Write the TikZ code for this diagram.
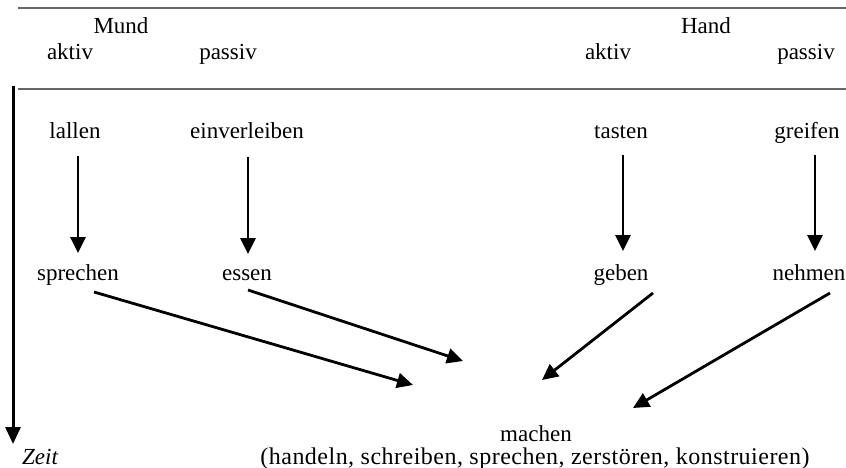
\documentclass[tikz,border=0pt]{standalone}
\usepackage{fontspec}
\setmainfont{Liberation Serif}
\usetikzlibrary{arrows.meta}
\begin{document}
\begin{tikzpicture}[x=1pt,y=-1pt,
  lbl/.style={anchor=base,inner sep=0pt,font=\fontsize{23}{26}\selectfont},
  rule/.style={draw=black!60,line width=1.1pt},
  arr/.style={line width=2.8pt,-{Triangle[length=16pt,width=15pt]}},
  timearr/.style={line width=3pt,-{Triangle[length=17pt,width=15pt]}}]
\useasboundingbox (0,0) rectangle (846,468);
% header
\coordinate (r1a) at (18,8);  \coordinate (r1b) at (846,8);
\coordinate (r2a) at (18,89); \coordinate (r2b) at (846,89);
\draw[rule] (r1a) -- (r1b);
\draw[rule] (r2a) -- (r2b);
\node[lbl] (mund) at (121,34) {Mund};
\node[lbl] (hand) at (706,34) {Hand};
\node[lbl] (aktivM) at (70,60) {aktiv};
\node[lbl] (passivM) at (228,60) {passiv};
\node[lbl] (aktivH) at (608,60) {aktiv};
\node[lbl] (passivH) at (806,60) {passiv};
% time axis
\coordinate (t0) at (13,86);
\coordinate (t1) at (13,444);
\draw[timearr] (t0) -- (t1);
\node[lbl,anchor=base west] (zeit) at (22,464) {\itshape Zeit};
% row 1
\node[lbl] (lallen) at (75,139) {lallen};
\node[lbl] (einv) at (247,139) {einverleiben};
\node[lbl] (tasten) at (621,139) {tasten};
\node[lbl] (greifen) at (807,139) {greifen};
% row 2
\node[lbl] (sprechen) at (78,280) {sprechen};
\node[lbl] (essen) at (247,280) {essen};
\node[lbl] (geben) at (621,280) {geben};
\node[lbl] (nehmen) at (809,280) {nehmen};
% result
\node[lbl] (machen) at (536,441) {machen};
\node[lbl,font=\fontsize{24}{26}\selectfont\addfontfeature{LetterSpace=2}] (liste) at (535,464) {(handeln, schreiben, sprechen, zerstören, konstruieren)};
% vertical arrows
\coordinate (a1s) at (78,156);  \coordinate (a1e) at (78,253);
\coordinate (a2s) at (248,157); \coordinate (a2e) at (248,254);
\coordinate (a3s) at (623,155); \coordinate (a3e) at (623,251);
\coordinate (a4s) at (815,155); \coordinate (a4e) at (815,251);
\draw[arr] (a1s) -- (a1e);
\draw[arr] (a2s) -- (a2e);
\draw[arr] (a3s) -- (a3e);
\draw[arr] (a4s) -- (a4e);
% diagonal arrows
\coordinate (d1s) at (94,292);  \coordinate (d1e) at (413,385);
\coordinate (d2s) at (248,290); \coordinate (d2e) at (463,361);
\coordinate (d3s) at (653,293); \coordinate (d3e) at (542,380);
\coordinate (d4s) at (830,293); \coordinate (d4e) at (633,408);
\draw[arr] (d1s) -- (d1e);
\draw[arr] (d2s) -- (d2e);
\draw[arr] (d3s) -- (d3e);
\draw[arr] (d4s) -- (d4e);
\end{tikzpicture}
\end{document}
